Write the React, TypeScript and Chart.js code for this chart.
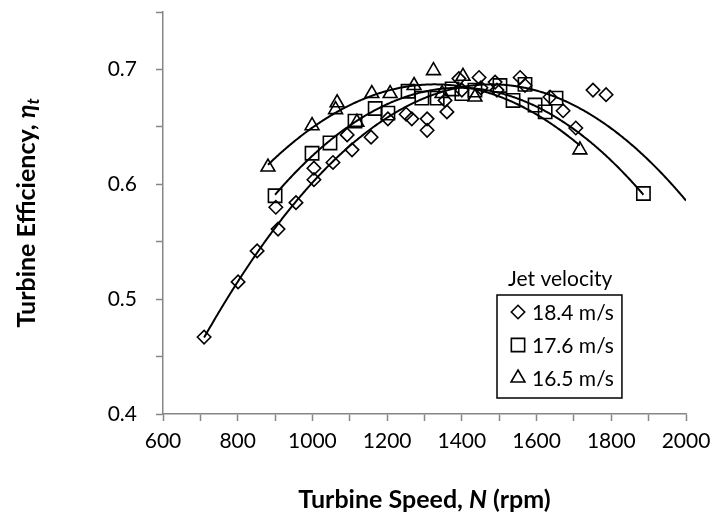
import React, { useEffect, useRef } from "react";
import { Chart, registerables } from "chart.js";

Chart.register(...registerables);

const FONT = "Lato, 'Open Sans', sans-serif";

const seriesLabels = ["18.4 m/s", "17.6 m/s", "16.5 m/s"];
const legendTitle = "Jet velocity";
const xTitle = [
  { t: "Turbine Speed, ", italic: false },
  { t: "N", italic: true },
  { t: " (rpm)", italic: false },
];
const yTitleMain = "Turbine Efficiency, ";
const yTitleSymbol = "\u03b7";
const yTitleSub = "t";

// 18.4 m/s (diamonds)
const speedA = [710, 801, 852, 902, 908, 956, 1004, 1004, 1055, 1106, 1093, 1157, 1202, 1251, 1266, 1307, 1307, 1360, 1355, 1392, 1400, 1446, 1451, 1489, 1494, 1556, 1569, 1636, 1671, 1705, 1751, 1786];
const effA = [0.467, 0.515, 0.542, 0.58, 0.561, 0.584, 0.604, 0.614, 0.619, 0.63, 0.643, 0.641, 0.657, 0.661, 0.657, 0.657, 0.647, 0.663, 0.673, 0.692, 0.682, 0.693, 0.684, 0.689, 0.682, 0.693, 0.686, 0.676, 0.664, 0.649, 0.682, 0.678];

// 17.6 m/s (squares)
const speedB = [900, 999, 1047, 1114, 1168, 1202, 1256, 1293, 1334, 1374, 1400, 1435, 1502, 1537, 1569, 1596, 1623, 1652, 1886];
const effB = [0.59, 0.627, 0.636, 0.655, 0.666, 0.662, 0.681, 0.675, 0.675, 0.683, 0.679, 0.682, 0.686, 0.673, 0.687, 0.669, 0.663, 0.675, 0.592];

// 16.5 m/s (triangles)
const speedC = [881, 999, 1066, 1062, 1119, 1159, 1208, 1272, 1324, 1347, 1403, 1435, 1716];
const effC = [0.615, 0.651, 0.671, 0.665, 0.654, 0.679, 0.679, 0.686, 0.699, 0.679, 0.694, 0.676, 0.63];

// 2nd-order trendlines: peak speed, peak efficiency, curvature (per (1000 rpm)^2)
const trendPeakSpeed = [1479, 1393, 1327];
const trendPeakEff = [0.687, 0.684, 0.687];
const trendCurv = [0.3728, 0.383, 0.352];
// trendline forward-forecast end (null = last data point)
const trendEnds: (number | null)[] = [2000, null, null];

const pointStyles = ["rectRot", "rect", "triangle"];
const pointRadii = [6.7, 9.4, 8];

function drawMarker(ctx: CanvasRenderingContext2D, style: string, x: number, y: number, r: number) {
  ctx.beginPath();
  if (style === "rectRot") {
    ctx.moveTo(x - r, y);
    ctx.lineTo(x, y - r);
    ctx.lineTo(x + r, y);
    ctx.lineTo(x, y + r);
  } else if (style === "rect") {
    const h = Math.SQRT1_2 * r;
    ctx.rect(x - h, y - h, 2 * h, 2 * h);
  } else {
    ctx.moveTo(x, y - r);
    ctx.lineTo(x + Math.sin((2 * Math.PI) / 3) * r, y + 0.5 * r);
    ctx.lineTo(x - Math.sin((2 * Math.PI) / 3) * r, y + 0.5 * r);
  }
  ctx.closePath();
  ctx.stroke();
}

const trendPlugin = {
  id: "trendlines",
  beforeDatasetsDraw(chart: any) {
    const { ctx, chartArea, scales } = chart;
    const xs = scales.x, ys = scales.y;
    ctx.save();
    ctx.beginPath();
    ctx.rect(chartArea.left, chartArea.top, chartArea.right - chartArea.left, chartArea.bottom - chartArea.top);
    ctx.clip();
    ctx.strokeStyle = "#000";
    ctx.lineWidth = 2;
    ctx.lineJoin = "round";
    chart.data.datasets.forEach((ds: any, i: number) => {
      const px = ds.data.map((p: any) => p.x);
      const f = (v: number) => {
        const u = (v - trendPeakSpeed[i]) / 1000;
        return trendPeakEff[i] - trendCurv[i] * u * u;
      };
      const x0 = Math.min(...px);
      const x1 = trendEnds[i] ?? Math.max(...px);
      const p0 = xs.getPixelForValue(x0), p1 = xs.getPixelForValue(x1);
      ctx.beginPath();
      let first = true;
      for (let p = p0; ; p += 1) {
        const pp = Math.min(p, p1);
        const yy = ys.getPixelForValue(f(xs.getValueForPixel(pp)));
        if (first) { ctx.moveTo(pp, yy); first = false; } else ctx.lineTo(pp, yy);
        if (pp >= p1) break;
      }
      ctx.stroke();
    });
    ctx.restore();
  },
};

const annotPlugin = {
  id: "annot",
  afterDraw(chart: any) {
    const { ctx, chartArea } = chart;
    ctx.save();
    ctx.fillStyle = "#000";
    ctx.textBaseline = "middle";
    // X title
    const tsize = 25;
    const fontN = `bold ${tsize}px ${FONT}`;
    const fontI = `italic bold ${tsize}px ${FONT}`;
    let total = 0;
    xTitle.forEach((s) => { ctx.font = s.italic ? fontI : fontN; total += ctx.measureText(s.t).width; });
    let x = (chartArea.left + chartArea.right) / 2 - total / 2;
    const yT = 500;
    ctx.textAlign = "left";
    xTitle.forEach((s) => { ctx.font = s.italic ? fontI : fontN; ctx.fillText(s.t, x, yT); x += ctx.measureText(s.t).width; });

    // Y title (rotated)
    ctx.save();
    ctx.translate(27, (chartArea.top + chartArea.bottom) / 2);
    ctx.rotate(-Math.PI / 2);
    ctx.font = fontN;
    const w1 = ctx.measureText(yTitleMain).width;
    ctx.font = fontI;
    const w2 = ctx.measureText(yTitleSymbol).width;
    const subFont = `italic bold ${Math.round(tsize * 0.68)}px ${FONT}`;
    ctx.font = subFont;
    const w3 = ctx.measureText(yTitleSub).width;
    let lx = -(w1 + w2 + w3) / 2;
    ctx.font = fontN; ctx.fillText(yTitleMain, lx, 0); lx += w1;
    ctx.font = fontI; ctx.fillText(yTitleSymbol, lx, 0); lx += w2;
    ctx.font = subFont; ctx.fillText(yTitleSub, lx, 7);
    ctx.restore();

    // Legend
    const lf = `21px ${FONT}`;
    ctx.font = lf;
    const boxX = 497, boxY = 295, rowH = 33, markerX = 518, textX = 532;
    let maxW = 0;
    seriesLabels.forEach((l) => { maxW = Math.max(maxW, ctx.measureText(l).width); });
    const boxW = textX + maxW + 8 - boxX;
    const boxH = rowH * 3 + 4;
    ctx.textAlign = "left";
    ctx.fillText(legendTitle, boxX + 11, boxY - 16);
    ctx.strokeStyle = "#000";
    ctx.lineWidth = 1.5;
    ctx.strokeRect(boxX, boxY, boxW, boxH);
    seriesLabels.forEach((l, i) => {
      const cy = boxY + 17 + i * rowH;
      ctx.lineWidth = 1.6;
      drawMarker(ctx, pointStyles[i], markerX, cy, pointRadii[i]);
      ctx.fillText(l, textX, cy + 1);
    });
    ctx.restore();
  },
};

export default function App() {
  const ref = useRef<HTMLCanvasElement | null>(null);
  useEffect(() => {
    if (!ref.current) return;
    const mk = (xs: number[], ys: number[]) => xs.map((v, i) => ({ x: v, y: ys[i] }));
    const sets = [mk(speedA, effA), mk(speedB, effB), mk(speedC, effC)];
    const chart = new Chart(ref.current, {
      type: "scatter",
      data: {
        datasets: sets.map((d, i) => ({
          label: seriesLabels[i],
          data: d,
          pointStyle: pointStyles[i] as any,
          pointRadius: pointRadii[i],
          pointHoverRadius: pointRadii[i],
          borderColor: "#000",
          backgroundColor: "rgba(0,0,0,0)",
          pointBorderWidth: 1.6,
          showLine: false,
        })),
      },
      options: {
        animation: false,
        responsive: true,
        maintainAspectRatio: false,
        layout: { padding: { top: 12, right: 29, left: 0, bottom: 0 } },
        plugins: { legend: { display: false }, tooltip: { enabled: false } },
        scales: {
          x: {
            type: "linear",
            min: 600,
            max: 2000,
            afterFit: (s: any) => { s.height = 108; s.paddingLeft = 0; s.paddingRight = 0; },
            ticks: {
              stepSize: 100,
              autoSkip: false,
              maxRotation: 0,
              padding: 8,
              color: "#000",
              font: { family: FONT, size: 21 },
              callback: (v: any) => (Math.round(v) % 200 === 0 ? String(v) : ""),
            },
            grid: { drawOnChartArea: false, color: "#868686", tickLength: 7, tickWidth: 1.5 },
            border: { color: "#868686", width: 1.5 },
          },
          y: {
            type: "linear",
            min: 0.4,
            max: 0.75,
            afterFit: (s: any) => { s.width = 163; s.paddingTop = 0; s.paddingBottom = 0; },
            ticks: {
              stepSize: 0.05,
              autoSkip: false,
              padding: 19,
              color: "#000",
              font: { family: FONT, size: 21 },
              callback: (v: any) => {
                const t = Number(v) * 10;
                return Math.abs(t - Math.round(t)) < 1e-6 ? Number(v).toFixed(1) : "";
              },
            },
            grid: { drawOnChartArea: false, color: "#868686", tickLength: 7, tickWidth: 1.5 },
            border: { color: "#868686", width: 1.5 },
          },
        },
      },
      plugins: [trendPlugin, annotPlugin],
    });
    return () => chart.destroy();
  }, []);
  return (
    <div style={{ position: "fixed", left: 0, top: 0, width: 715, height: 522, background: "#fff" }}>
      <canvas ref={ref} />
    </div>
  );
}
